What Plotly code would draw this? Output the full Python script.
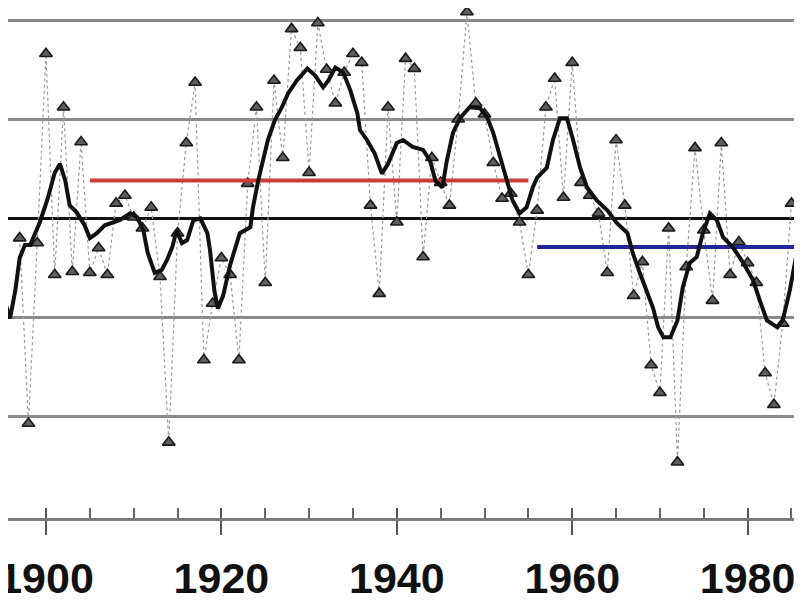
import plotly.graph_objects as go

# Annual values (triangles)
years = list(range(1897, 1986))
values = [-0.20, -2.07, -0.25, 1.66, -0.57, 1.12, -0.54, 0.77, -0.55, -0.30,
          -0.57, 0.15, 0.23, 0.01, -0.10, 0.11, -0.59, -2.26, -0.15, 0.76,
          1.37, -1.43, -0.86, -0.40, -0.57, -1.43, 0.35, 1.12, -0.65, 1.39,
          0.61, 1.91, 1.72, 0.46, 1.97, 1.50, 1.16, 1.47, 1.66, 1.57,
          0.13, -0.76, 1.12, -0.04, 1.61, 1.51, -0.39, 0.61, 0.36, 0.13,
          1.00, 2.08, 1.16, 1.05, 0.56, 0.20, 0.25, -0.04, -0.57, 0.08,
          1.12, 1.41, 0.21, 1.57, 0.36, 0.23, 0.05, -0.55, 0.79, 0.13,
          -0.78, -0.44, -1.48, -1.76, -0.10, -2.46, -0.49, 0.71, -0.12, -0.83,
          0.76, -0.57, -0.24, -0.45, -0.65, -1.56, -1.88, -1.06, 0.15]

# Smoothed curve
smooth_t = [1894.75, 1895.3, 1895.9, 1896.5, 1897.0, 1897.6, 1898.2, 1899.3, 1900.2, 1901.0,
            1901.6, 1902.2, 1902.7, 1903.5, 1904.4, 1905.0, 1905.8, 1906.7, 1907.3, 1908.4,
            1909.6, 1910.4, 1911.1, 1911.6, 1912.4, 1913.2, 1913.8, 1914.4, 1914.9, 1915.5,
            1916.1, 1916.8, 1917.6, 1918.4, 1918.7, 1919.2, 1919.6, 1920.2, 1921.0, 1921.6,
            1922.1, 1923.3, 1923.6, 1924.2, 1924.7, 1925.3, 1926.1, 1926.9, 1927.6, 1928.6,
            1929.8, 1930.7, 1931.6, 1932.2, 1933.0, 1933.9, 1934.7, 1935.5, 1935.8, 1936.6,
            1937.5, 1938.3, 1939.0, 1940.0, 1940.7, 1941.8, 1943.0, 1943.8, 1944.4, 1945.2,
            1945.7, 1946.4, 1947.2, 1948.3, 1949.5, 1950.3, 1951.0, 1951.8, 1952.6, 1953.2,
            1954.0, 1954.8, 1955.5, 1956.0, 1957.1, 1957.8, 1958.6, 1959.4, 1960.1, 1960.9,
            1961.7, 1962.8, 1964.0, 1965.1, 1966.3, 1966.9, 1967.7, 1968.5, 1969.2, 1969.8,
            1970.4, 1971.2, 1972.0, 1972.6, 1973.4, 1974.2, 1974.9, 1975.7, 1976.5, 1977.2,
            1978.3, 1979.5, 1980.6, 1981.4, 1982.2, 1983.4, 1984.0, 1984.8, 1985.6, 1986.2]
smooth_v = [-0.68, -0.83, -1.01, -0.73, -0.40, -0.27, -0.27, -0.04, 0.20, 0.46,
            0.55, 0.38, 0.13, 0.06, -0.07, -0.20, -0.15, -0.07, -0.05, -0.02,
            0.05, 0.01, -0.12, -0.35, -0.55, -0.52, -0.42, -0.29, -0.12, -0.25,
            -0.22, -0.02, 0.00, -0.15, -0.32, -0.73, -0.91, -0.78, -0.47, -0.29,
            -0.15, -0.09, 0.11, 0.38, 0.58, 0.79, 0.99, 1.12, 1.26, 1.39,
            1.51, 1.44, 1.32, 1.39, 1.52, 1.47, 1.29, 1.06, 0.89, 0.79,
            0.65, 0.45, 0.55, 0.76, 0.79, 0.72, 0.69, 0.58, 0.38, 0.31,
            0.58, 0.86, 1.01, 1.12, 1.11, 1.02, 0.86, 0.61, 0.38, 0.18,
            0.05, 0.11, 0.31, 0.41, 0.51, 0.79, 1.01, 1.01, 0.79, 0.51,
            0.31, 0.18, 0.08, -0.05, -0.15, -0.35, -0.55, -0.73, -0.90, -1.10,
            -1.20, -1.20, -1.03, -0.70, -0.45, -0.39, -0.15, 0.05, -0.02, -0.19,
            -0.29, -0.45, -0.62, -0.83, -1.03, -1.10, -1.03, -0.73, -0.35, -0.15]

# Period means
red_t = [1905, 1955]
red_v = [0.38, 0.38]
blue_t = [1956, 1986.2]
blue_v = [-0.29, -0.29]

tick_vals = [1900, 1920, 1940, 1960, 1980]
tick_text = ["1900", "1920", "1940", "1960", "1980"]
grid_vals = [-2, -1, 0, 1, 2]

X_RANGE = [1895.67, 1986.2]
Y_RANGE = [-3.023, 2.121]

fig = go.Figure()

fig.add_trace(go.Scatter(
    x=years, y=values, mode="lines+markers",
    line=dict(color="#9a9a9a", width=1.2, dash="dot"),
    marker=dict(symbol="triangle-up", size=11, color="#5e5e5e",
                line=dict(color="#1a1a1a", width=1.6)),
    showlegend=False))

fig.add_trace(go.Scatter(x=red_t, y=red_v, mode="lines",
                         line=dict(color="#cc3a3a", width=4), showlegend=False))
fig.add_trace(go.Scatter(x=blue_t, y=blue_v, mode="lines",
                         line=dict(color="#25259a", width=4), showlegend=False))

fig.add_trace(go.Scatter(x=smooth_t, y=smooth_v, mode="lines",
                         line=dict(color="#111111", width=4), showlegend=False))

# invisible trace to activate the overlay axis
fig.add_trace(go.Scatter(x=[1950], y=[0], xaxis="x2", mode="markers",
                         marker=dict(opacity=0), showlegend=False, hoverinfo="skip"))

fig.update_layout(
    width=794, height=603,
    margin=dict(l=0, r=0, t=0, b=93),
    paper_bgcolor="white", plot_bgcolor="white",
    xaxis=dict(range=X_RANGE, showgrid=False, zeroline=False, automargin=False,
               showline=True, linecolor="#7a7a7a", linewidth=3,
               tickmode="array", tickvals=tick_vals, ticktext=tick_text,
               ticks="outside", ticklen=14, tickwidth=2, tickcolor="#555",
               minor=dict(ticks="inside", dtick=5, tick0=1900, ticklen=10,
                          tickwidth=2, tickcolor="#666"),
               tickfont=dict(family="Liberation Sans", size=43, color="#111",
                             weight="bold"),
               ticklabelstandoff=6, ticklabeloverflow="allow"),
    xaxis2=dict(range=X_RANGE, overlaying="x", side="bottom", anchor="y",
                showgrid=False, zeroline=False, showline=False, automargin=False,
                tickmode="array", tickvals=tick_vals, ticks="inside",
                ticklen=10, tickwidth=2, tickcolor="#555", showticklabels=False),
    yaxis=dict(range=Y_RANGE, showgrid=True, tickmode="array", tickvals=grid_vals,
               gridcolor="#8a8a8a", gridwidth=3, automargin=False,
               zeroline=True, zerolinecolor="#111", zerolinewidth=3,
               showticklabels=False, ticks="", showline=False),
)

fig.write_html("out.html")
